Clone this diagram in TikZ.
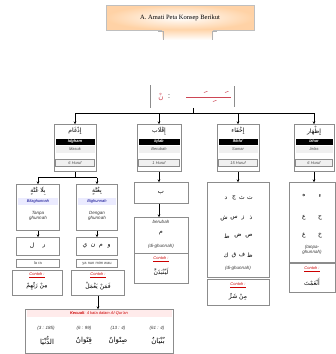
\documentclass[tikz,border=0pt]{standalone}
\usepackage{fontspec}
\setmainfont{Liberation Sans}
\newfontfamily\titlefont{Liberation Serif}
\newfontfamily\ar[Script=Arabic]{DejaVu Sans}
\TeXXeTstate=1
\newcommand{\AR}[1]{{\ar\beginR #1\endR}}
\usetikzlibrary{arrows.meta,shadings}
\definecolor{frm}{gray}{0.55}
\definecolor{tanred}{RGB}{205,70,85}
\definecolor{labgray}{gray}{0.2}
\tikzset{
  frame/.style={draw=frm, line width=0.8pt, fill=white, inner sep=0pt},
  arab/.style={inner sep=0pt, font=\fontsize{6}{7}\selectfont},
  blk/.style={fill=black, text=white, inner sep=0pt, minimum height=6pt, font=\fontsize{4}{4}\selectfont\bfseries\itshape},
  lite/.style={fill=gray!12, text=black!70, inner sep=0pt, minimum height=7pt, font=\fontsize{4}{4.5}\selectfont\itshape},
  cnt/.style={draw=frm, line width=0.5pt, fill=gray!12, text=black!70, inner sep=0pt, minimum height=7pt, font=\fontsize{4}{4.5}\selectfont\itshape},
  blu/.style={fill=blue!8, text=blue!55!black, inner sep=0pt, minimum height=6.5pt, font=\fontsize{4}{4.5}\selectfont\itshape},
  lab/.style={fill=white, inner sep=0pt, minimum height=5pt, minimum width=12pt, text=labgray, font=\fontsize{4.5}{5}\selectfont\itshape},
  contoh/.style={inner sep=0pt, text=red!80!black, font=\fontsize{4}{4.5}\selectfont\itshape},
  conn/.style={line width=0.6pt, black},
  arr/.style={conn, -{Stealth[length=2.6pt,width=2.6pt]}},
}
\newcommand{\hdr}[7]{%
  \node[frame, minimum width=#3pt, minimum height=47pt, anchor=north] (#1) at (#2,124) {};
  \node[arab] (#1a) at (#2,131) {\AR{#4}};
  \node[blk, minimum width=#3pt-3pt] (#1b) at (#2,141.5) {#5};
  \node[lite, minimum width=#3pt-3pt] (#1c) at (#2,149.5) {#6};
  \node[cnt, minimum width=#3pt-3pt] (#1d) at (#2,163) {#7};
}
% a row of single letters: name, y, list of x/letter
\newcommand{\letrow}[3]{%
  \foreach \lx/\lt [count=\li] in {#3} {\node[arab] (#1-\li) at (\lx,#2) {{\ar\lt}};}%
}
\begin{document}
\begin{tikzpicture}[x=1pt,y=-1pt]
\useasboundingbox (0,0) rectangle (336,354);

% title banner
\node[draw=gray!50, line width=0.5pt, inner color=white, outer color=orange!35,
      minimum width=148pt, minimum height=25pt, inner sep=0pt,
      font=\titlefont\fontsize{6.5}{7}\selectfont] (title) at (180,17.5) {A. Amati Peta Konsep Berikut};
\shade[top color=orange!30, bottom color=white] (162,30.5) rectangle (213,40);
\draw[gray!60, line width=0.5pt] (158,31) -- (163,31) -- (163,40);
\draw[gray!60, line width=0.5pt] (217,31) -- (212,31) -- (212,40);

% nun sukun / tanwin
\node[draw=frm, line width=0.5pt, double=white, double distance=0.7pt,
      minimum width=84pt, minimum height=22pt, inner sep=0pt] (nun) at (193,96.5) {};
\node[inner sep=0pt, text=tanred, font=\fontsize{7}{8}\selectfont] (nunL) at (161,97) {{\ar نْ}};
\node[inner sep=0pt, font=\fontsize{7}{8}\selectfont] (nunC) at (169,97) {:};
\draw[tanred, line width=0.6pt] (186,97) -- (231,97);
\draw[tanred, line width=0.5pt] (204,92.5) -- (207.5,91.3);
\draw[tanred, line width=0.5pt] (225,92.5) -- (228.5,91.3);
\draw[tanred, line width=0.5pt] (213,101.5) -- (216.5,100.3);

% column headers
\hdr{hI}{75}{42}{إِدْغَام}{Idgham}{Masuk}{6 Huruf}
\hdr{hQ}{159}{44}{إِقْلَاب}{Iqlab}{Berubah}{1 Huruf}
\hdr{hK}{238}{42}{إِخْفَاء}{Ikhfa'}{Samar}{15 Huruf}
\hdr{hZ}{314}{40}{إِظْهَار}{Izhar}{Jelas}{6 Huruf}

\coordinate (bus) at (193,113);
\draw[conn] (nun.south) -- (bus);
\draw[conn] (hI.north |- bus) -- (hZ.north |- bus);
\foreach \h in {hI,hQ,hK,hZ} \draw[arr] (\h.north |- bus) -- (\h.north);

% Idgham branches
\node[frame, minimum width=43pt, minimum height=46pt, anchor=north] (bl) at (38,184) {};
\node[arab] (bla) at (38,191) {\AR{بِلَا غُنَّةٍ}};
\node[blu, minimum width=40pt] (blb) at (38,201.5) {Bilaghunnah};
\node[lab, align=center] (blc) at (38,216) {Tanpa\\ghunnah};

\node[frame, minimum width=41pt, minimum height=46pt, anchor=north] (bi) at (97,184) {};
\node[arab] (bia) at (97,191) {\AR{بِغُنَّةٍ}};
\node[blu, minimum width=38pt] (bib) at (97,201.5) {Bighunnah};
\node[lab, align=center] (bic) at (97,216) {Dengan\\ghunnah};

\coordinate (br) at (75,177.5);
\draw[conn] (hI.south) -- (br);
\draw[conn] (bl.north |- br) -- (bi.north |- br);
\draw[arr] (bl.north |- br) -- (bl.north);
\draw[arr] (bi.north |- br) -- (bi.north);

\node[frame, minimum width=43pt, minimum height=18pt, anchor=north] (bll) at (38,237) {};
\letrow{bll}{246}{32/ل,44/ر}
\node[frame, minimum width=41pt, minimum height=18pt, anchor=north] (bil) at (97,237) {};
\letrow{bil}{246}{85/ي,93/ن,101/م,109/و}
\draw[arr] (bl.south) -- (bll.north);
\draw[arr] (bi.south) -- (bil.north);

\node[frame, minimum width=43pt, minimum height=7.5pt, anchor=north, font=\fontsize{4}{4.5}\selectfont, text=black!75] (bln) at (38,259) {la ra};
\node[frame, minimum width=41pt, minimum height=7.5pt, anchor=north, font=\fontsize{4}{4.5}\selectfont, text=black!75] (bin) at (97,259) {ya nun mim wau};

\node[frame, minimum width=50pt, minimum height=25pt, anchor=north] (blx) at (37,270) {};
\node[contoh] (blx1) at (37,275.5) {\underline{Contoh :}};
\node[arab] (blx2) at (37,286) {\AR{مِنْ رَبِّهِمْ}};
\node[frame, minimum width=53pt, minimum height=25pt, anchor=north] (bix) at (98,270) {};
\node[contoh] (bix1) at (98,275.5) {\underline{Contoh :}};
\node[arab] (bix2) at (98,286) {\AR{فَمَنْ يَعْمَلْ}};

% exceptions
\node[frame, minimum width=148pt, minimum height=44pt, anchor=north] (kec) at (99,309) {};
\node[fill=red!8, minimum width=145pt, minimum height=7pt, inner sep=0pt, text=red!80!black,
      font=\fontsize{4}{4.5}\selectfont\itshape] (keca) at (99,313.5) {\textbf{Kecuali}: 4 kata dalam Al-Qur'an};
\draw[arr] (bix.south) -- (bix.south |- kec.north);
\node[lab] (r1) at (46,328) {(3 : 185)};
\node[lab] (r2) at (84,328) {(6 : 99)};
\node[lab] (r3) at (118,328) {(13 : 4)};
\node[lab] (r4) at (157,328) {(61 : 4)};
\node[arab, font=\fontsize{7}{8}\selectfont] (w1) at (47,341) {\AR{الدُّنْيَا}};
\node[arab, font=\fontsize{7}{8}\selectfont] (w2) at (84,341) {\AR{قِنْوَانٌ}};
\node[arab, font=\fontsize{7}{8}\selectfont] (w3) at (118,341) {\AR{صِنْوَانٌ}};
\node[arab, font=\fontsize{7}{8}\selectfont] (w4) at (158,341) {\AR{بُنْيَانٌ}};

% Iqlab
\node[frame, minimum width=54pt, minimum height=21pt, anchor=north, font=\fontsize{6.5}{7}\selectfont] (qb) at (161,182) {{\ar ب}};
\draw[arr] (hQ.south) -- (hQ.south |- qb.north);
\node[frame, minimum width=54pt, minimum height=36pt, anchor=north] (qm) at (161,217) {};
\node[lab] (qm1) at (161,221.5) {berubah};
\node[arab] (qm2) at (161,233) {{\ar م}};
\node[lab] (qm3) at (161,246) {(di-ghunnah)};
\draw[arr] (hQ.south |- qb.south) -- (hQ.south |- qm.north);
\node[frame, minimum width=54pt, minimum height=30pt, anchor=north] (qx) at (161,253) {};
\node[contoh] (qx1) at (161,259) {\underline{Contoh :}};
\node[arab] (qx2) at (161,272) {\AR{لَيُنْبَذَنَّ}};

% Ikhfa
\node[frame, minimum width=62pt, minimum height=95pt, anchor=north] (kl) at (238,182) {};
\draw[arr] (hK.south) -- (kl.north);
\letrow{kr1}{198}{250/ت,242/ث,234/ج,226/د}
\letrow{kr2}{218}{251/ذ,243/ز,234/س,224/ش}
\letrow{kr3}{236}{249/ص,238/ض,227/ط}
\letrow{kr4}{255}{250/ظ,242/ف,234/ق,226/ك}
\node[lab] (kl5) at (238,268) {(di-ghunnah)};
\node[frame, minimum width=62pt, minimum height=26pt, anchor=north] (kx) at (238,279) {};
\node[contoh] (kx1) at (238,285.5) {\underline{Contoh :}};
\node[arab] (kx2) at (238,297) {\AR{مِنْ شَرِّ}};

% Izhar
\node[frame, minimum width=46pt, minimum height=80pt, anchor=north] (zl) at (312,182) {};
\draw[arr] (hZ.south) -- (hZ.south |- zl.north);
\letrow{zr1}{196}{320/ء,304/ه}
\letrow{zr2}{218}{320/ح,304/ع}
\letrow{zr3}{235}{320/خ,304/غ}
\node[lab, align=center] (zl4) at (312,250) {(tanpa-\\ghunnah)};
\node[frame, minimum width=46pt, minimum height=29pt, anchor=north] (zx) at (312,263) {};
\node[contoh] (zx1) at (312,269.5) {\underline{Contoh :}};
\node[arab] (zx2) at (312,282) {\AR{أَنْعَمْتَ}};
\end{tikzpicture}
\end{document}
